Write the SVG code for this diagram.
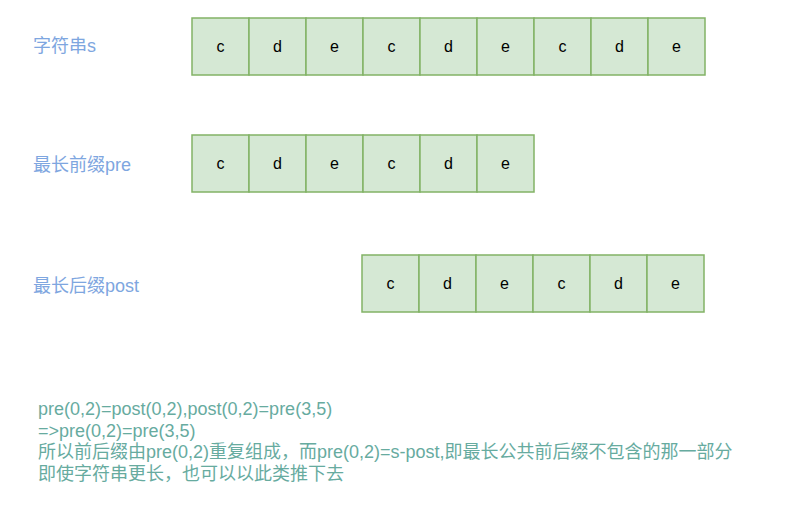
<svg xmlns="http://www.w3.org/2000/svg" width="785" height="509" viewBox="0 0 785 509">
<style>
.cell{fill:#d5e8d4;stroke:#82b366;stroke-width:1.5}
.ch{font-family:"Liberation Sans","Noto Sans CJK SC",sans-serif;font-size:16px;fill:#000;text-anchor:middle}
.lbl{font-family:"Liberation Sans","Noto Sans CJK SC",sans-serif;font-size:18px;fill:#7EA6E0}
.note{font-family:"Liberation Sans","Noto Sans CJK SC",sans-serif;font-size:18px;fill:#67AB9F}
</style>
<rect width="785" height="509" fill="#fff"/>
<g id="label-s"><text class="lbl" x="33" y="52">字符串s</text></g>
<g id="label-pre"><text class="lbl" x="33" y="171">最长前缀pre</text></g>
<g id="label-post"><text class="lbl" x="33" y="292">最长后缀post</text></g>
<g id="row-s">
<rect class="cell" x="192" y="18" width="57" height="57"/><text class="ch" x="220.5" y="52">c</text>
<rect class="cell" x="249" y="18" width="57" height="57"/><text class="ch" x="277.5" y="52">d</text>
<rect class="cell" x="306" y="18" width="57" height="57"/><text class="ch" x="334.5" y="52">e</text>
<rect class="cell" x="363" y="18" width="57" height="57"/><text class="ch" x="391.5" y="52">c</text>
<rect class="cell" x="420" y="18" width="57" height="57"/><text class="ch" x="448.5" y="52">d</text>
<rect class="cell" x="477" y="18" width="57" height="57"/><text class="ch" x="505.5" y="52">e</text>
<rect class="cell" x="534" y="18" width="57" height="57"/><text class="ch" x="562.5" y="52">c</text>
<rect class="cell" x="591" y="18" width="57" height="57"/><text class="ch" x="619.5" y="52">d</text>
<rect class="cell" x="648" y="18" width="57" height="57"/><text class="ch" x="676.5" y="52">e</text>
</g>
<g id="row-pre">
<rect class="cell" x="192" y="135" width="57" height="57"/><text class="ch" x="220.5" y="169">c</text>
<rect class="cell" x="249" y="135" width="57" height="57"/><text class="ch" x="277.5" y="169">d</text>
<rect class="cell" x="306" y="135" width="57" height="57"/><text class="ch" x="334.5" y="169">e</text>
<rect class="cell" x="363" y="135" width="57" height="57"/><text class="ch" x="391.5" y="169">c</text>
<rect class="cell" x="420" y="135" width="57" height="57"/><text class="ch" x="448.5" y="169">d</text>
<rect class="cell" x="477" y="135" width="57" height="57"/><text class="ch" x="505.5" y="169">e</text>
</g>
<g id="row-post">
<rect class="cell" x="362" y="255" width="57" height="57"/><text class="ch" x="390.5" y="289">c</text>
<rect class="cell" x="419" y="255" width="57" height="57"/><text class="ch" x="447.5" y="289">d</text>
<rect class="cell" x="476" y="255" width="57" height="57"/><text class="ch" x="504.5" y="289">e</text>
<rect class="cell" x="533" y="255" width="57" height="57"/><text class="ch" x="561.5" y="289">c</text>
<rect class="cell" x="590" y="255" width="57" height="57"/><text class="ch" x="618.5" y="289">d</text>
<rect class="cell" x="647" y="255" width="57" height="57"/><text class="ch" x="675.5" y="289">e</text>
</g>
<g id="connectors"></g>
<g id="note">
<text class="note" x="38" y="415">pre(0,2)=post(0,2),post(0,2)=pre(3,5)</text>
<text class="note" x="38" y="436.6">=&gt;pre(0,2)=pre(3,5)</text>
<text class="note" x="38" y="458.2">所以前后缀由pre(0,2)重复组成，而pre(0,2)=s-post,即最长公共前后缀不包含的那一部分</text>
<text class="note" x="38" y="479.8">即使字符串更长，也可以以此类推下去</text>
</g>
</svg>
